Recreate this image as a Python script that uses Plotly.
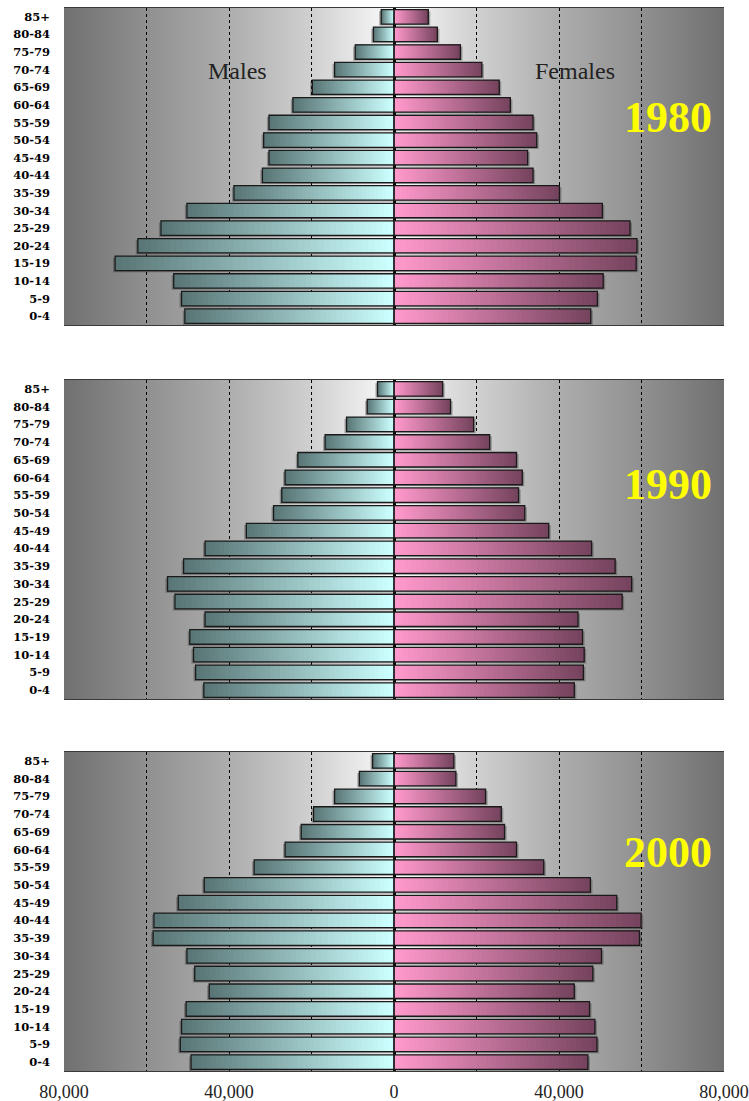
import base64
import numpy as np
import plotly.graph_objects as go

# ---- data (population counts by five-year age group, youngest first) ----
age_groups = ["0-4", "5-9", "10-14", "15-19", "20-24", "25-29", "30-34", "35-39",
              "40-44", "45-49", "50-54", "55-59", "60-64", "65-69", "70-74",
              "75-79", "80-84", "85+"]
years = ["1980", "1990", "2000"]

males_1980 = [50700, 51500, 53400, 67600, 62100, 56500, 50200, 38800, 31900,
              30300, 31600, 30300, 24500, 19800, 14400, 9400, 5000, 3100]
females_1980 = [47700, 49300, 50700, 58700, 58900, 57200, 50500, 40100, 33700,
                32400, 34600, 33700, 28200, 25500, 21300, 16100, 10500, 8300]

males_1990 = [46100, 48100, 48600, 49500, 45800, 53100, 54900, 51000, 45800,
              35800, 29200, 27200, 26400, 23300, 16700, 11500, 6500, 4000]
females_1990 = [43700, 45900, 46100, 45700, 44600, 55300, 57600, 53600, 47900,
                37500, 31700, 30200, 31100, 29700, 23200, 19300, 13700, 11800]

males_2000 = [49200, 51800, 51500, 50400, 44800, 48300, 50200, 58400, 58200,
              52300, 46000, 33900, 26400, 22500, 19500, 14400, 8400, 5200]
females_2000 = [47000, 49200, 48700, 47400, 43700, 48200, 50300, 59500, 59900,
                54000, 47600, 36300, 29700, 26800, 26000, 22200, 15000, 14500]

x_tick_values = [-80000, -40000, 0, 40000, 80000]
x_tick_text = ["80,000", "40,000", "0", "40,000", "80,000"]
x_grid_values = [-60000, -20000, 20000, 60000]

panels = [
    (years[0], males_1980, females_1980),
    (years[1], males_1990, females_1990),
    (years[2], males_2000, females_2000),
]

# ---- styling ----
W, H = 749, 1101
SERIF = "Liberation Serif"
X_DOMAIN = [64 / W, 724 / W]
# vertical pixel extents of the three panels (top, bottom)
PANEL_PX = [(8, 325), (380, 699), (752, 1071)]
BAR_WIDTH = 0.82
N_STEPS = 40

MALE_DARK = np.array([0x5a, 0x76, 0x76])
MALE_LIGHT = np.array([0xcc, 0xff, 0xff])
FEMALE_LIGHT = np.array([0xff, 0x99, 0xcc])
FEMALE_DARK = np.array([0x76, 0x44, 0x5e])


def mix(c0, c1, t):
    c = (1 - t) * c0 + t * c1
    return "rgb({},{},{})".format(*[int(round(v)) for v in c])


# horizontal grey backdrop: white in the middle, darker towards both edges
bg_stops = [(0.0, "#707070"), (0.125, "#909090"), (0.25, "#adadad"),
            (0.375, "#d0d0d0"), (0.5, "#fafafa"), (0.625, "#d0d0d0"),
            (0.75, "#adadad"), (0.875, "#909090"), (1.0, "#707070")]
stops_svg = "".join(
    f'<stop offset="{o}" stop-color="{c}"/>' for o, c in bg_stops)
svg = ('<svg xmlns="http://www.w3.org/2000/svg" width="400" height="10" '
       'viewBox="0 0 400 10" preserveAspectRatio="none"><defs>'
       '<linearGradient id="g" x1="0" y1="0" x2="1" y2="0">'
       f'{stops_svg}</linearGradient></defs>'
       '<rect x="0" y="0" width="400" height="10" fill="url(#g)"/></svg>')
bg_uri = "data:image/svg+xml;base64," + base64.b64encode(svg.encode()).decode()

fig = go.Figure()
positions = list(range(len(age_groups)))
images, annotations = [], []
layout_axes = {}

for k, (year, males, females) in enumerate(panels, start=1):
    xa = "x" if k == 1 else f"x{k}"
    ya = "y" if k == 1 else f"y{k}"
    m_vals = -np.array(males, dtype=float)
    f_vals = np.array(females, dtype=float)

    # soft drop shadow under every bar
    for vals, sgn in ((m_vals, -1), (f_vals, 1)):
        fig.add_trace(go.Bar(
            x=vals + sgn * 500, y=[p - 0.09 for p in positions], base=0,
            orientation="h", width=BAR_WIDTH,
            marker=dict(color="rgba(40,40,40,0.35)", line=dict(width=0)),
            xaxis=xa, yaxis=ya, hoverinfo="skip", showlegend=False))

    # gradient fill: each layer starts a little further out and runs to the bar end
    for i in range(N_STEPS):
        t = i / (N_STEPS - 1)
        frac = i / N_STEPS
        fig.add_trace(go.Bar(
            x=m_vals * (1 - frac), base=m_vals * frac, y=positions,
            orientation="h", width=BAR_WIDTH,
            marker=dict(color=mix(MALE_LIGHT, MALE_DARK, t), line=dict(width=0)),
            xaxis=xa, yaxis=ya, hoverinfo="skip", showlegend=False))
        fig.add_trace(go.Bar(
            x=f_vals * (1 - frac), base=f_vals * frac, y=positions,
            orientation="h", width=BAR_WIDTH,
            marker=dict(color=mix(FEMALE_LIGHT, FEMALE_DARK, t), line=dict(width=0)),
            xaxis=xa, yaxis=ya, hoverinfo="skip", showlegend=False))

    # bar outlines
    for vals, name in ((m_vals, "Males"), (f_vals, "Females")):
        fig.add_trace(go.Bar(
            x=vals, base=0, y=positions, orientation="h", width=BAR_WIDTH,
            marker=dict(color="rgba(0,0,0,0)", line=dict(color="#1a1a1a", width=1.3)),
            xaxis=xa, yaxis=ya, name=name, showlegend=False,
            customdata=np.column_stack([age_groups, np.abs(vals)]),
            hovertemplate="%{customdata[0]}: %{customdata[1]:,.0f}"
                          "<extra>" + name + " " + year + "</extra>"))

    top_px, bot_px = PANEL_PX[k - 1]
    y_domain = [1 - bot_px / H, 1 - top_px / H]
    last = k == len(panels)

    layout_axes["xaxis" if k == 1 else f"xaxis{k}"] = dict(
        domain=X_DOMAIN, anchor=ya, range=[-80000, 80000], automargin=False,
        tickmode="array", tickvals=x_tick_values, ticktext=x_tick_text,
        showticklabels=last, ticks="", ticklabelstandoff=4,
        ticklabeloverflow="allow",
        tickfont=dict(family=SERIF, size=18, color="#222222"),
        showgrid=True, gridcolor="#000000", gridwidth=1.2, griddash="dot",
        minor=dict(tickvals=x_grid_values, showgrid=True, gridcolor="#000000",
                   gridwidth=1.2, griddash="dot", ticks=""),
        zeroline=True, zerolinecolor="#000000", zerolinewidth=2.5,
        showline=True, mirror=True, linecolor="#3a3a3a", linewidth=1.2,
        fixedrange=True)
    layout_axes["yaxis" if k == 1 else f"yaxis{k}"] = dict(
        domain=y_domain, anchor=xa, range=[-0.5, len(age_groups) - 0.5],
        automargin=False,
        tickmode="array", tickvals=positions, ticktext=age_groups,
        tickfont=dict(family="DejaVu Serif", size=11.5, color="#000000",
                      weight="bold"),
        ticks="", ticklabelstandoff=13, showgrid=False, zeroline=False,
        showline=False, fixedrange=True)

    images.append(dict(
        source=bg_uri, xref=f"{xa} domain", yref=f"{ya} domain",
        x=0, y=1, sizex=1, sizey=1, xanchor="left", yanchor="top",
        sizing="stretch", layer="below"))

    # year label
    year_y = [117, 484, 852][k - 1]
    annotations.append(dict(
        text=year, xref="paper", yref="paper", x=668 / W, y=1 - year_y / H,
        xanchor="center", yanchor="middle", showarrow=False,
        font=dict(family=SERIF, size=44, color="#ffff00", weight="bold")))

annotations.append(dict(
    text="Males", xref="paper", yref="paper", x=238 / W, y=1 - 71 / H,
    xanchor="center", yanchor="middle", showarrow=False,
    font=dict(family=SERIF, size=24, color="#222222")))
annotations.append(dict(
    text="Females", xref="paper", yref="paper", x=575 / W, y=1 - 71 / H,
    xanchor="center", yanchor="middle", showarrow=False,
    font=dict(family=SERIF, size=24, color="#222222")))

fig.update_layout(
    width=W, height=H, margin=dict(l=0, r=0, t=0, b=0),
    paper_bgcolor="#ffffff", plot_bgcolor="#ffffff",
    barmode="overlay", showlegend=False,
    images=images, annotations=annotations, **layout_axes)

fig.write_html("out.html", config={"displayModeBar": False})
